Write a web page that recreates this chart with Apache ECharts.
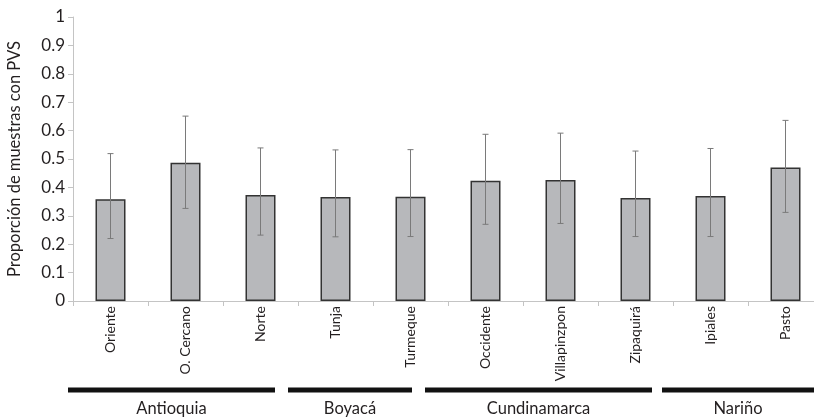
<!DOCTYPE html>
<html><head><meta charset="utf-8">
<script src="https://cdn.jsdelivr.net/npm/echarts@6/dist/echarts.min.js"></script>
<style>html,body{margin:0;padding:0;background:#fff}#c{width:814px;height:417px}</style>
</head><body><div id="c"></div>
<script>
var categories = ['Oriente','O. Cercano','Norte','Tunja','Turmeque','Occidente','Villapinzpon','Zipaquirá','Ipiales','Pasto'];
var proportions = [0.358,0.487,0.373,0.366,0.367,0.423,0.426,0.363,0.370,0.470];
var errLow = [0.220,0.326,0.232,0.226,0.227,0.270,0.273,0.227,0.227,0.312];
var errHigh = [0.519,0.651,0.539,0.532,0.533,0.587,0.591,0.528,0.537,0.636];
var groupNames = ['Antioquia','Boyacá','Cundinamarca','Nariño'];
var groupStart = [0,3,5,8];
var groupEnd = [2,4,7,9];
var yTicks = [0,0.1,0.2,0.3,0.4,0.5,0.6,0.7,0.8,0.9,1];

// layout tweaks for the group rules (pixels, relative to band edges)
var groupLineAdj = [[-5,-23],[-10,-36],[-23,-21],[-11,-9]];
var FONT = 'Lato';

var chart = echarts.init(document.getElementById('c'));
var errData = categories.map(function(c,i){return [i, errLow[i], errHigh[i]];});
var groupData = groupNames.map(function(n,i){return [groupStart[i], groupEnd[i], i];});

chart.setOption({
  animation:false,
  grid:{left:73, top:17, width:750, height:284, containLabel:false, outerBoundsMode:'none'},
  xAxis:{type:'category', data:categories,
    axisLine:{lineStyle:{color:'#c4c4c4', width:1}},
    axisTick:{show:true, length:5, lineStyle:{color:'#c4c4c4'}},
    axisLabel:{rotate:90, margin:5, fontFamily:FONT, fontSize:14, color:'#231f20', interval:0}
  },
  yAxis:{type:'value', min:0, max:1, interval:0.1,
    name:'Proporción de muestras con PVS', nameLocation:'middle', nameGap:50,
    nameTextStyle:{fontFamily:FONT, fontSize:16.5, color:'#231f20'},
    axisLine:{show:true, lineStyle:{color:'#c4c4c4'}},
    axisTick:{show:true, length:5, lineStyle:{color:'#c4c4c4'}},
    splitLine:{show:false},
    axisLabel:{margin:8, fontFamily:FONT, fontSize:17, color:'#231f20',
      formatter:function(v){var r=yTicks.filter(function(t){return Math.abs(t-v)<1e-9;})[0]; return r===undefined?'':String(r);}}
  },
  series:[
    {type:'bar', data:proportions, barWidth:30,
      itemStyle:{color:'#b7b8bb', borderColor:'#333', borderWidth:1.5}},
    {type:'custom', data:errData, z:5,
      renderItem:function(params, api){
        var x = api.value(0);
        var lo = api.coord([x, api.value(1)]);
        var hi = api.coord([x, api.value(2)]);
        var cw = 3;
        return {type:'group', children:[
          {type:'line', shape:{x1:lo[0], y1:lo[1], x2:hi[0], y2:hi[1]}, style:{stroke:'#7a7a7a', lineWidth:1}},
          {type:'line', shape:{x1:lo[0]-cw, y1:lo[1], x2:lo[0]+cw, y2:lo[1]}, style:{stroke:'#7a7a7a', lineWidth:1}},
          {type:'line', shape:{x1:hi[0]-cw, y1:hi[1], x2:hi[0]+cw, y2:hi[1]}, style:{stroke:'#7a7a7a', lineWidth:1}}
        ]};
      }},
    {type:'custom', data:groupData, clip:false, silent:true,
      renderItem:function(params, api){
        var s = api.coord([api.value(0), 0]);
        var e = api.coord([api.value(1), 0]);
        var band = api.size([1,0])[0];
        var gi = api.value(2);
        var adj = groupLineAdj[gi];
        var x1 = s[0] - band/2 + adj[0];
        var x2 = e[0] + band/2 + adj[1];
        var y = s[1] + 89;
        return {type:'group', children:[
          {type:'line', shape:{x1:x1, y1:y, x2:x2, y2:y}, style:{stroke:'#111', lineWidth:5}},
          {type:'text', x:(x1+x2)/2, y:y+19, style:{text:groupNames[gi], fontFamily:FONT, fontSize:16.5, fill:'#231f20', align:'center', verticalAlign:'middle'}}
        ]};
      }}
  ]
});
</script></body></html>
